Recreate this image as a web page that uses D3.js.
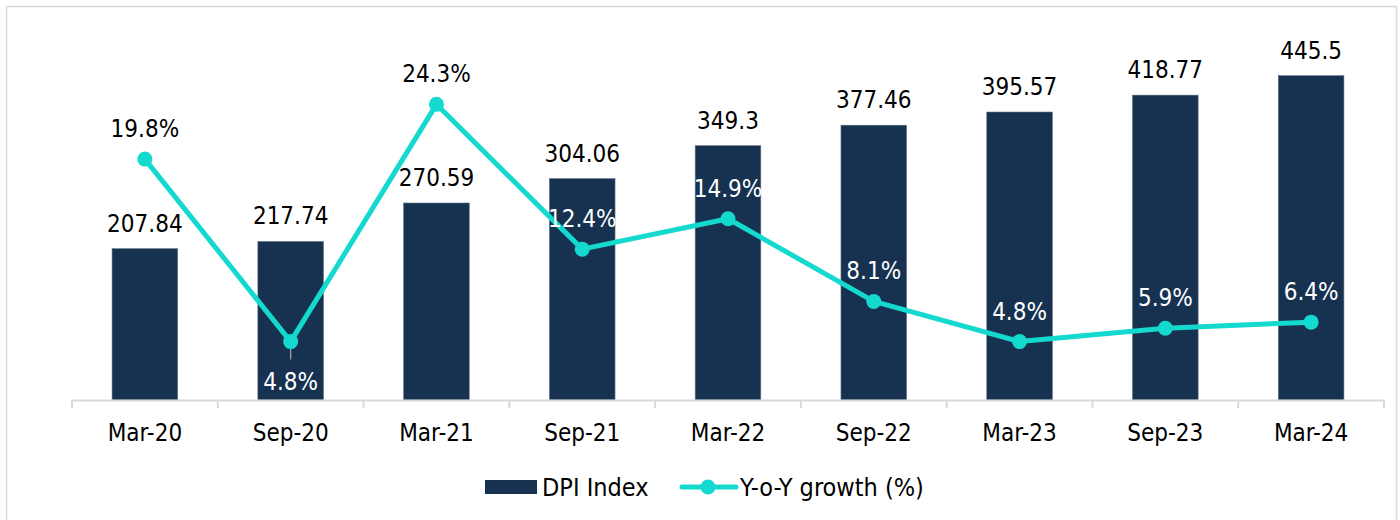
<!DOCTYPE html>
<html>
<head>
<meta charset="utf-8">
<script src="https://cdn.jsdelivr.net/npm/d3@7"></script>
<style>
    html, body { margin: 0; padding: 0; background: #fff; }
    svg { display: block; font-family: "DejaVu Sans Condensed", "DejaVu Sans", sans-serif; font-stretch: condensed; }
</style>
</head>
<body>
<svg id="chart" width="1400" height="520"></svg>
<script>
const categories = ['Mar-20', 'Sep-20', 'Mar-21', 'Sep-21', 'Mar-22', 'Sep-22', 'Mar-23', 'Sep-23', 'Mar-24'];
const dpiIndex = [207.84, 217.74, 270.59, 304.06, 349.3, 377.46, 395.57, 418.77, 445.5];
const yoyGrowth = [19.8, 4.8, 24.3, 12.4, 14.9, 8.1, 4.8, 5.9, 6.4];
const growthLabels = ['19.8%', '4.8%', '24.3%', '12.4%', '14.9%', '8.1%', '4.8%', '5.9%', '6.4%'];
const legendNames = ['DPI Index', 'Y-o-Y growth (%)'];

const barColor = '#163250';
const lineColor = '#13d9cf';
const axisColor = '#d9d9d9';
const fontSize = '24px';

const svg = d3.select('#chart');

// frame around the plot (bottom runs off the picture)
svg.append('rect')
    .attr('x', 6.5)
    .attr('y', 6.5)
    .attr('width', 1390)
    .attr('height', 540)
    .attr('fill', 'none')
    .attr('stroke', axisColor)
    .attr('stroke-width', 1.5);

const x = d3.scaleBand()
    .domain(categories)
    .range([72, 1384])
    .paddingInner(0.55)
    .paddingOuter(0.275);

const xOuter = d3.scaleBand()
    .domain(categories)
    .range([72, 1384]);

const yBar = d3.scaleLinear().domain([0, 500]).range([400, 36]);
const yLine = d3.scaleLinear().domain([0, 30]).range([400, 35]);

// bars
svg.selectAll('.bar')
    .data(dpiIndex)
    .enter()
    .append('rect')
    .attr('class', 'bar')
    .attr('x', (d, i) => x(categories[i]))
    .attr('y', d => yBar(d))
    .attr('width', x.bandwidth())
    .attr('height', d => yBar(0) - yBar(d))
    .attr('fill', barColor)
    .attr('stroke', '#5b6f86')
    .attr('stroke-width', 0.6);

// bar value labels
svg.selectAll('.bar-label')
    .data(dpiIndex)
    .enter()
    .append('text')
    .attr('class', 'bar-label')
    .attr('x', (d, i) => xOuter(categories[i]) + xOuter.bandwidth() / 2)
    .attr('y', d => yBar(d) - 17)
    .attr('text-anchor', 'middle')
    .attr('font-size', fontSize)
    .attr('fill', '#000')
    .text(d => d);

// x axis
const xAxis = d3.axisBottom(xOuter).tickSize(0).tickPadding(24);
const axisG = svg.append('g')
    .attr('transform', 'translate(0,400)')
    .call(xAxis);
axisG.select('.domain').attr('stroke', axisColor).attr('stroke-width', 2);
axisG.selectAll('.tick text')
    .attr('font-size', fontSize)
    .attr('font-family', '"DejaVu Sans Condensed", "DejaVu Sans", sans-serif')
    .attr('fill', '#000');

// boundary tick marks between categories
const boundaries = categories.map(c => xOuter(c)).concat([xOuter.range()[1]]);
svg.selectAll('.bound')
    .data(boundaries)
    .enter()
    .append('line')
    .attr('x1', d => d)
    .attr('x2', d => d)
    .attr('y1', 400)
    .attr('y2', 408)
    .attr('stroke', axisColor)
    .attr('stroke-width', 2);

// growth line
const cx = i => xOuter(categories[i]) + xOuter.bandwidth() / 2;
const line = d3.line()
    .x((d, i) => cx(i))
    .y(d => yLine(d));

svg.append('path')
    .datum(yoyGrowth)
    .attr('d', line)
    .attr('fill', 'none')
    .attr('stroke', lineColor)
    .attr('stroke-width', 5)
    .attr('stroke-linejoin', 'round');

// leader line for the label placed under the point
svg.append('line')
    .attr('x1', cx(1))
    .attr('x2', cx(1))
    .attr('y1', yLine(yoyGrowth[1]))
    .attr('y2', yLine(yoyGrowth[1]) + 18)
    .attr('stroke', '#a6a6a6')
    .attr('stroke-width', 1.2);

svg.selectAll('.dot')
    .data(yoyGrowth)
    .enter()
    .append('circle')
    .attr('class', 'dot')
    .attr('cx', (d, i) => cx(i))
    .attr('cy', d => yLine(d))
    .attr('r', 7.5)
    .attr('fill', lineColor);

// growth labels: first and third sit on white, the rest on the bars
svg.selectAll('.growth-label')
    .data(yoyGrowth)
    .enter()
    .append('text')
    .attr('class', 'growth-label')
    .attr('x', (d, i) => cx(i))
    .attr('y', (d, i) => i === 1 ? yLine(d) + 48 : yLine(d) - 22)
    .attr('text-anchor', 'middle')
    .attr('font-size', fontSize)
    .attr('fill', (d, i) => (i === 0 || i === 2) ? '#000' : '#fff')
    .text((d, i) => growthLabels[i]);

// legend
const legend = svg.append('g').attr('transform', 'translate(0,487)');
legend.append('rect')
    .attr('x', 485)
    .attr('y', -7)
    .attr('width', 52)
    .attr('height', 14)
    .attr('fill', barColor);
legend.append('text')
    .attr('x', 542)
    .attr('y', 9)
    .attr('font-size', '25px')
    .text(legendNames[0]);
legend.append('line')
    .attr('x1', 682)
    .attr('x2', 736)
    .attr('y1', 0)
    .attr('y2', 0)
    .attr('stroke', lineColor)
    .attr('stroke-width', 5)
    .attr('stroke-linecap', 'round');
legend.append('circle')
    .attr('cx', 708)
    .attr('cy', 0)
    .attr('r', 7.5)
    .attr('fill', lineColor);
legend.append('text')
    .attr('x', 740)
    .attr('y', 9)
    .attr('font-size', '25px')
    .text(legendNames[1]);
</script>
</body>
</html>
